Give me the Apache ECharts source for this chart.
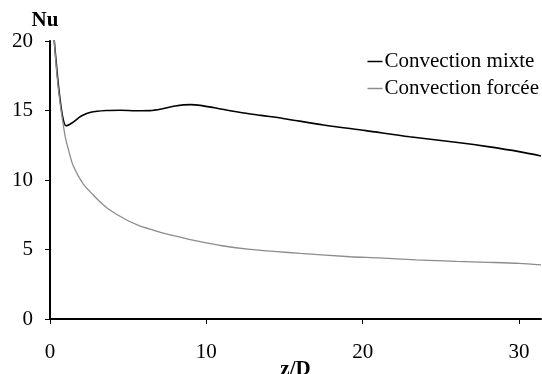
<!DOCTYPE html>
<html>
<head>
<meta charset="utf-8">
<script src="https://cdn.jsdelivr.net/npm/echarts@6/dist/echarts.min.js"></script>
<style>
  html, body { margin: 0; padding: 0; background: #fff; }
  #chart { width: 542px; height: 374px; }
</style>
</head>
<body>
<div id="chart"></div>
<script>
// z/D positions and Nu values
const mixteZ = [0.25, 0.45, 0.6, 0.8, 1.02, 1.4, 2.0, 2.6, 3.6, 4.5, 5.5, 6.4, 7.2, 8.0, 9.0, 9.6, 10.5, 12.1, 13.5, 14.9, 17.5, 20.2, 23.0, 26.2, 28.0, 30.0, 31.4]
const mixteNu = [20.3, 17.8, 16.2, 14.6, 13.9, 14.1, 14.6, 14.87, 15.0, 15.02, 14.98, 14.99, 15.12, 15.32, 15.42, 15.37, 15.2, 14.88, 14.65, 14.43, 13.96, 13.55, 13.11, 12.68, 12.4, 12.04, 11.73]

const forceeZ = [0.25, 0.45, 0.64, 0.96, 1.2, 1.49, 2.13, 2.77, 3.19, 3.83, 4.9, 5.7, 6.6, 7.5, 8.2, 9.6, 11.0, 12.8, 14.5, 16.0, 19.2, 21.0, 23.4, 26.0, 28.0, 30.0, 31.4]
const forceeNu = [20.3, 17.5, 15.6, 13.2, 12.1, 11.0, 9.7, 8.92, 8.44, 7.84, 7.12, 6.72, 6.4, 6.1, 5.92, 5.56, 5.27, 5.01, 4.85, 4.72, 4.48, 4.4, 4.26, 4.15, 4.08, 4.0, 3.9]

const xTicks = [0, 10, 20, 30]
const yTicks = [0, 5, 10, 15, 20]

const font = 'Liberation Serif'

function pairs(xs, ys) {
  return xs.map((x, i) => [x, ys[i]])
}

const chart = echarts.init(document.getElementById('chart'))
chart.setOption({
  animation: false,
  grid: {
    left: 50,
    right: 1,
    top: 41,
    bottom: 55,
    outerBoundsMode: 'none'
  },
  legend: {
    orient: 'vertical',
    right: -2,
    top: 46,
    itemWidth: 15,
    itemHeight: 1.5,
    itemGap: 6,
    icon: 'rect',
    textStyle: {
      fontFamily: font,
      fontSize: 21,
      color: '#000',
      padding: [0, 0, 0, -3]
    },
    data: ['Convection mixte', 'Convection forcée']
  },
  xAxis: {
    type: 'value',
    min: 0,
    max: 31.4,
    interval: 10,
    name: 'z/D',
    nameLocation: 'middle',
    nameGap: 40,
    nameMoveOverlap: false,
    nameTextStyle: {
      fontFamily: font,
      fontSize: 21,
      fontWeight: 'bold',
      color: '#000'
    },
    axisLine: { lineStyle: { color: '#000', width: 2 } },
    axisTick: { length: 5, lineStyle: { color: '#000', width: 1 } },
    axisLabel: {
      margin: 23,
      fontFamily: font,
      fontSize: 21,
      color: '#000',
      showMaxLabel: false,
      formatter: v => (xTicks.includes(v) ? String(v) : '')
    },
    splitLine: { show: false }
  },
  yAxis: {
    type: 'value',
    min: 0,
    max: 20,
    interval: 5,
    name: 'Nu',
    nameLocation: 'end',
    nameGap: 3,
    nameTextStyle: {
      fontFamily: font,
      fontSize: 21,
      fontWeight: 'bold',
      color: '#000',
      padding: [0, 10, 0, 0]
    },
    axisLine: { show: true, lineStyle: { color: '#000', width: 2 } },
    axisTick: { show: true, length: 5, lineStyle: { color: '#000', width: 1 } },
    axisLabel: {
      margin: 17,
      fontFamily: font,
      fontSize: 21,
      color: '#000',
      formatter: v => (yTicks.includes(v) ? String(v) : '')
    },
    splitLine: { show: false }
  },
  series: [
    {
      name: 'Convection mixte',
      type: 'line',
      data: pairs(mixteZ, mixteNu),
      smooth: 0.3,
      showSymbol: false,
      color: '#000',
      lineStyle: { color: '#000', width: 1.6 }
    },
    {
      name: 'Convection forcée',
      type: 'line',
      data: pairs(forceeZ, forceeNu),
      smooth: 0.3,
      showSymbol: false,
      color: '#8c8c8c',
      lineStyle: { color: '#8c8c8c', width: 1.3 }
    }
  ]
})
</script>
</body>
</html>
